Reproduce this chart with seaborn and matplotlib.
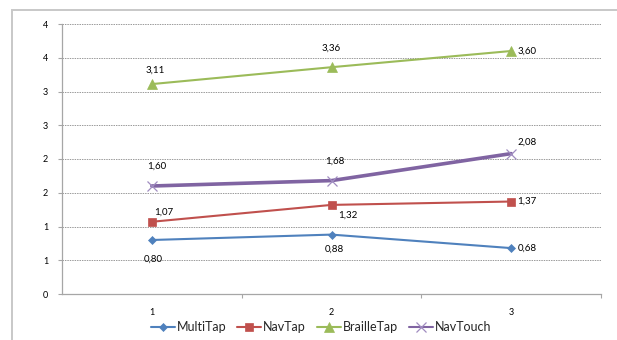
import matplotlib
matplotlib.use("Agg")
import matplotlib.pyplot as plt
from matplotlib.patches import Rectangle
from matplotlib.ticker import FixedLocator, FixedFormatter
import seaborn as sns
import pandas as pd

# Chart data
sessions = [1, 2, 3]
series_names = ["MultiTap", "NavTap", "BrailleTap", "NavTouch"]
multitap = [0.80, 0.88, 0.68]
navtap = [1.07, 1.32, 1.37]
brailletap = [3.11, 3.36, 3.60]
navtouch = [1.60, 1.68, 2.08]
y_ticks = [0, 0.5, 1.0, 1.5, 2.0, 2.5, 3.0, 3.5, 4.0]
y_tick_labels = ["0", "1", "1", "2", "2", "3", "3", "4", "4"]

values = {"MultiTap": multitap, "NavTap": navtap,
          "BrailleTap": brailletap, "NavTouch": navtouch}
df = pd.DataFrame([
    {"session": s, "value": v, "method": name}
    for name in series_names
    for s, v in zip(sessions, values[name])
])

colors = {"MultiTap": "#4F81BD", "NavTap": "#C0504D",
          "BrailleTap": "#9BBB59", "NavTouch": "#8064A2"}
markers = {"MultiTap": "D", "NavTap": "s", "BrailleTap": "^", "NavTouch": "x"}
widths = {"MultiTap": 1.5, "NavTap": 1.5, "BrailleTap": 1.5, "NavTouch": 2.6}
msizes = {"MultiTap": 4.5, "NavTap": 6, "BrailleTap": 6.5, "NavTouch": 7}

sns.set_theme(style="white")
plt.rcParams["font.family"] = ["Lato", "DejaVu Sans"]

fig = plt.figure(figsize=(6.17, 3.40), dpi=100)
ax = fig.add_axes([62 / 617, 1 - 294 / 340, (601 - 62) / 617, 270 / 340])

for name in series_names:
    sub = df[df["method"] == name]
    sns.lineplot(data=sub, x="session", y="value", ax=ax, color=colors[name],
                 marker=markers[name], markersize=msizes[name],
                 markeredgecolor=colors[name] if name != "NavTouch" else "#a08cc0",
                 markeredgewidth=0.9 if name == "NavTouch" else 0.5,
                 linewidth=widths[name], label=name, zorder=3)

# Data label offsets from each point, in pixels (dx, dy)
offsets = {
    "MultiTap": [(1, -19), (3, -15), (16, 0)],
    "NavTap": [(12, 10), (16, -10), (16, 0)],
    "BrailleTap": [(3, 14), (0, 19), (16, 0)],
    "NavTouch": [(5, 20), (3, 19), (16, 11)],
}
for name in series_names:
    for s, v, (dx, dy) in zip(sessions, values[name], offsets[name]):
        ax.annotate(f"{v:.2f}".replace(".", ","), (s, v), xytext=(dx, dy),
                    textcoords="offset pixels", ha="center", va="center",
                    fontsize=7, color="#000000")

ax.set_xlim(0.5, 3.5)
ax.set_ylim(0, 4)
ax.yaxis.set_major_locator(FixedLocator(y_ticks))
ax.yaxis.set_major_formatter(FixedFormatter(y_tick_labels))
ax.set_xticks(sessions)
ax.set_xticklabels([str(s) for s in sessions])
ax.set_xlabel("")
ax.set_ylabel("")

# Gridlines and axes styling
for y in y_ticks[1:]:
    ax.axhline(y, color="#9a9a9a", linewidth=0.7, linestyle=(0, (1.5, 1.0)), zorder=1)
for side in ["top", "right"]:
    ax.spines[side].set_visible(False)
for side in ["left", "bottom"]:
    ax.spines[side].set_color("#a6a6a6")
    ax.spines[side].set_linewidth(0.9)

ax.tick_params(axis="y", which="major", length=3, width=0.8, color="#a6a6a6",
               labelsize=6.5, pad=7, left=True, labelcolor="#000000")
ax.tick_params(axis="x", which="major", length=0, labelsize=6.5, pad=10, labelcolor="#000000")
# Category boundary ticks on the x axis
ax.set_xticks([1.5, 2.5, 3.5], minor=True)
ax.tick_params(axis="x", which="minor", length=3, width=0.8, color="#a6a6a6", bottom=True)

leg = ax.legend(loc="center", bbox_to_anchor=(321 / 617, 1 - 327 / 340),
                bbox_transform=fig.transFigure, ncol=4, frameon=False,
                fontsize=9, handlelength=1.9, handletextpad=0.15, columnspacing=0.9)
for line in leg.get_lines():
    line.set_linewidth(1.5)

# Outer chart frame
fig.add_artist(Rectangle((12 / 617, -0.1), 1.2, 0.1 + (1 - 10 / 340),
                         transform=fig.transFigure, fill=False,
                         edgecolor="#c8c8c8", linewidth=1.4))

fig.savefig("out.png", dpi=100)
